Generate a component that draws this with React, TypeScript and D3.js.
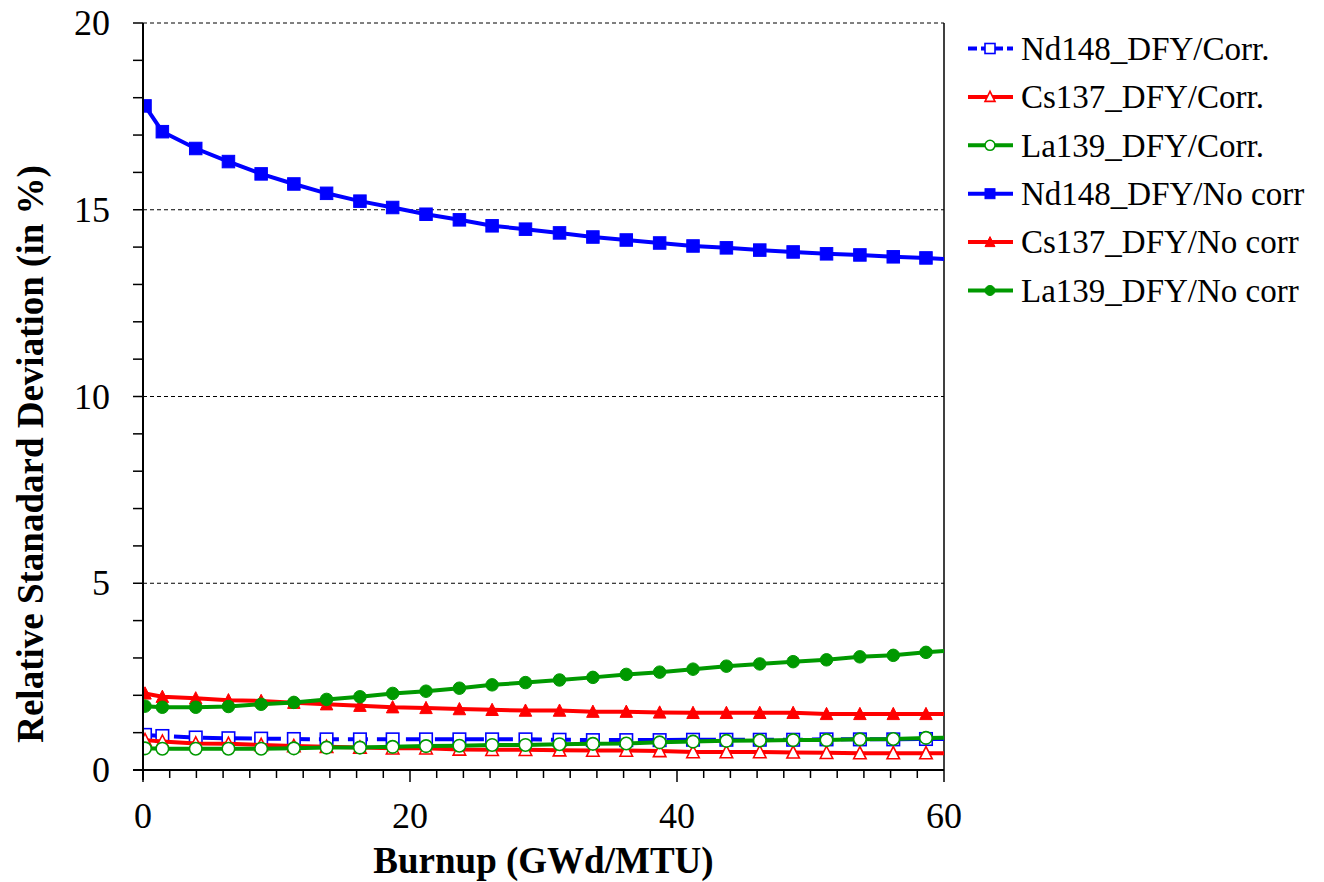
import React from "react";
import * as d3 from "d3";

const burnup = [0.15, 1.45, 3.95, 6.4, 8.85, 11.3, 13.75, 16.25, 18.7, 21.2, 23.7, 26.15, 28.65,
  31.2, 33.7, 36.2, 38.7, 41.2, 43.7, 46.2, 48.7, 51.2, 53.7, 56.2, 58.65, 61.1];

const nd148Corr = [0.94, 0.91, 0.87, 0.85, 0.84, 0.83, 0.82, 0.82, 0.82, 0.82, 0.82, 0.82, 0.82,
  0.81, 0.8, 0.8, 0.8, 0.81, 0.81, 0.81, 0.81, 0.82, 0.82, 0.82, 0.83, 0.83];
const cs137Corr = [0.8, 0.76, 0.71, 0.7, 0.67, 0.64, 0.62, 0.6, 0.58, 0.58, 0.55, 0.54, 0.54,
  0.53, 0.52, 0.52, 0.51, 0.48, 0.48, 0.48, 0.47, 0.46, 0.45, 0.45, 0.45, 0.45];
const la139Corr = [0.58, 0.57, 0.57, 0.57, 0.57, 0.58, 0.6, 0.6, 0.62, 0.64, 0.65, 0.67, 0.67,
  0.69, 0.7, 0.71, 0.74, 0.76, 0.78, 0.79, 0.8, 0.8, 0.82, 0.83, 0.86, 0.87];
const nd148NoCorr = [17.78, 17.09, 16.64, 16.29, 15.96, 15.69, 15.44, 15.23, 15.06, 14.88, 14.73, 14.57, 14.48,
  14.38, 14.27, 14.19, 14.11, 14.03, 13.98, 13.92, 13.87, 13.82, 13.79, 13.74, 13.71, 13.66];
const cs137NoCorr = [2.05, 1.96, 1.92, 1.87, 1.85, 1.8, 1.76, 1.72, 1.68, 1.66, 1.63, 1.61, 1.59,
  1.59, 1.56, 1.56, 1.54, 1.53, 1.53, 1.53, 1.53, 1.5, 1.5, 1.5, 1.5, 1.5];
const la139NoCorr = [1.71, 1.68, 1.68, 1.7, 1.76, 1.81, 1.89, 1.96, 2.05, 2.11, 2.19, 2.28, 2.34,
  2.41, 2.48, 2.56, 2.62, 2.7, 2.78, 2.84, 2.9, 2.95, 3.03, 3.07, 3.15, 3.22];

const xTicks = [0, 20, 40, 60];
const yTicks = [0, 5, 10, 15, 20];

type Series = { name: string; values: number[]; color: string; marker: string; hollow: boolean; dashed: boolean };

const series: Series[] = [
  { name: "Nd148_DFY/Corr.", values: nd148Corr, color: "#0000ff", marker: "square", hollow: true, dashed: true },
  { name: "Cs137_DFY/Corr.", values: cs137Corr, color: "#ff0000", marker: "triangle", hollow: true, dashed: false },
  { name: "La139_DFY/Corr.", values: la139Corr, color: "#009900", marker: "circle", hollow: true, dashed: false },
  { name: "Nd148_DFY/No corr", values: nd148NoCorr, color: "#0000ff", marker: "square", hollow: false, dashed: false },
  { name: "Cs137_DFY/No corr", values: cs137NoCorr, color: "#ff0000", marker: "triangle", hollow: false, dashed: false },
  { name: "La139_DFY/No corr", values: la139NoCorr, color: "#009900", marker: "circle", hollow: false, dashed: false },
];

const font = '"Liberation Serif", "Times New Roman", Tinos, serif';
const txt = { fontFamily: font };

function Marker({ s, cx, cy, size }: { s: Series; cx: number; cy: number; size: number }) {
  const fill = s.hollow ? "#fff" : s.color;
  const sw = s.hollow ? 1.6 : 1;
  if (s.marker === "square") {
    return <rect x={cx - size / 2} y={cy - size / 2} width={size} height={size} fill={fill} stroke={s.color} strokeWidth={sw} />;
  }
  if (s.marker === "circle") {
    return <circle cx={cx} cy={cy} r={size / 2} fill={fill} stroke={s.color} strokeWidth={sw} />;
  }
  const h = size * 0.9;
  const pts = `${cx},${cy - h / 2 - 1} ${cx - size / 2},${cy + h / 2} ${cx + size / 2},${cy + h / 2}`;
  return <polygon points={pts} fill={fill} stroke={s.color} strokeWidth={sw} />;
}

export default function App() {
  const left = 143, right = 944, top = 23, bottom = 770;
  const x = d3.scaleLinear().domain([0, 60]).range([left, right]);
  const y = d3.scaleLinear().domain([0, 20]).range([bottom, top]);
  const line = d3.line<number>().x((_, i) => x(burnup[i])).y((d) => y(d));
  const xMinor = d3.range(0, 61, 2);
  const yMinor = d3.range(0, 21, 1);

  return (
    <svg width={1324} height={882} style={{ position: "absolute", left: 0, top: 0, fontFamily: font }}>
      <defs>
        <clipPath id="plot">
          <rect x={left} y={top - 10} width={right - left} height={bottom - top + 20} />
        </clipPath>
      </defs>
      {yTicks.filter((t) => t > 0).map((t) => (
        <line key={t} x1={left} x2={right} y1={y(t)} y2={y(t)} stroke="#000" strokeWidth={1} strokeDasharray="4,3" />
      ))}
      <line x1={right} x2={right} y1={top} y2={bottom} stroke="#000" strokeWidth={1.5} />
      <g clipPath="url(#plot)">
        {series.map((s) => (
          <g key={s.name}>
            <path d={line(s.values) || ""} fill="none" stroke={s.color} strokeWidth={4}
              strokeDasharray={s.dashed ? "20,9" : undefined} />
            {s.values.map((v, i) => (
              <Marker key={i} s={s} cx={x(burnup[i])} cy={y(v)} size={12.5} />
            ))}
          </g>
        ))}
      </g>
      <line x1={left} x2={left} y1={top} y2={bottom + 10} stroke="#000" strokeWidth={2} />
      <line x1={left - 10} x2={right} y1={bottom} y2={bottom} stroke="#000" strokeWidth={2} />
      {yMinor.map((t) => (
        <line key={t} x1={left - 10} x2={left} y1={y(t)} y2={y(t)} stroke="#000" strokeWidth={1.5} />
      ))}
      {xMinor.map((t) => (
        <line key={t} x1={x(t)} x2={x(t)} y1={bottom} y2={bottom + (t % 20 === 0 ? 12 : 8)} stroke="#000" strokeWidth={1.5} />
      ))}
      {yTicks.map((t) => (
        <text key={t} style={txt} x={110} y={y(t)} dy="0.34em" textAnchor="end" fontSize={36}>{t}</text>
      ))}
      {xTicks.map((t) => (
        <text key={t} style={txt} x={x(t)} y={828} textAnchor="middle" fontSize={36}>{t}</text>
      ))}
      <text style={txt} x={(left + right) / 2} y={873} textAnchor="middle" fontSize={37} fontWeight="bold">Burnup (GWd/MTU)</text>
      <text style={txt} transform="translate(43, 454) rotate(-90)" textAnchor="middle" fontSize={37} fontWeight="bold">
        Relative Stanadard Deviation (in %)
      </text>
      {series.map((s, i) => {
        const ly = 48.5 + i * 48.4;
        return (
          <g key={s.name}>
            <line x1={968} x2={1013} y1={ly} y2={ly} stroke={s.color} strokeWidth={4} strokeDasharray={s.dashed ? "9,4" : undefined} />
            <Marker s={s} cx={990} cy={ly} size={10} />
            <text style={txt} x={1021} y={ly} dy="0.34em" fontSize={33}>{s.name}</text>
          </g>
        );
      })}
    </svg>
  );
}
